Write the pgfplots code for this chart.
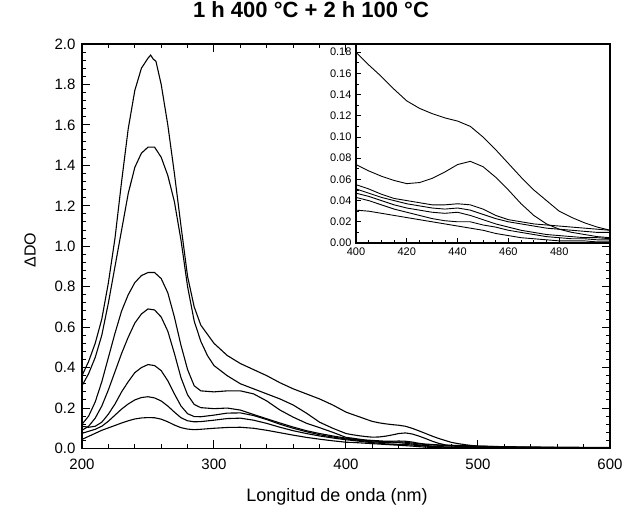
\documentclass[border=0pt]{standalone}
\usepackage{fontspec}
\setmainfont{Liberation Sans}
\usepackage{pgfplots}
\usepackage{pgfplotstable}
\pgfplotsset{compat=1.18}

\pgfplotstableread{
x y
200 0.36
205 0.43
210 0.52
215 0.64
220 0.82
225 1.04
230 1.32
235 1.58
240 1.77
245 1.88
250 1.93
252 1.945
254 1.925
256 1.915
260 1.80
265 1.60
270 1.36
275 1.10
280 0.85
285 0.70
290 0.61
300 0.52
310 0.46
320 0.42
330 0.39
340 0.36
350 0.325
360 0.295
370 0.27
380 0.245
390 0.215
400 0.180
405 0.168
410 0.157
415 0.145
420 0.134
425 0.127
430 0.122
435 0.118
440 0.115
445 0.110
450 0.100
455 0.088
460 0.075
465 0.062
470 0.050
475 0.040
480 0.030
485 0.024
490 0.019
495 0.015
500 0.012
520 0.008
550 0.005
600 0.003
}\cA

\pgfplotstableread{
x y
200 0.31
205 0.37
210 0.45
215 0.56
220 0.72
225 0.90
230 1.08
235 1.26
240 1.39
245 1.46
250 1.49
255 1.49
260 1.44
265 1.35
270 1.22
275 1.03
280 0.80
285 0.63
290 0.53
295 0.46
300 0.41
310 0.36
320 0.32
330 0.295
340 0.27
350 0.245
360 0.215
370 0.175
380 0.13
390 0.10
400 0.074
405 0.068
410 0.063
415 0.059
420 0.056
425 0.057
430 0.061
435 0.067
440 0.074
445 0.077
450 0.072
455 0.062
460 0.050
465 0.037
470 0.026
475 0.018
480 0.013
485 0.010
490 0.008
495 0.006
500 0.005
520 0.004
550 0.003
600 0.002
}\cB

\pgfplotstableread{
x y
200 0.12
205 0.16
210 0.23
215 0.33
220 0.45
225 0.57
230 0.68
235 0.76
240 0.82
245 0.855
250 0.87
255 0.87
260 0.84
265 0.77
270 0.65
275 0.51
280 0.39
285 0.31
290 0.285
300 0.28
310 0.285
320 0.285
330 0.27
340 0.235
350 0.19
360 0.155
370 0.125
380 0.103
390 0.08
400 0.055
405 0.051
410 0.046
415 0.042
420 0.040
425 0.038
430 0.036
435 0.036
440 0.037
445 0.036
450 0.032
455 0.026
460 0.022
465 0.020
470 0.018
475 0.017
480 0.016
485 0.015
490 0.014
495 0.013
500 0.012
520 0.009
550 0.007
600 0.005
}\cC

\pgfplotstableread{
x y
200 0.09
205 0.11
210 0.15
215 0.21
220 0.29
225 0.38
230 0.47
235 0.55
240 0.62
245 0.665
250 0.69
255 0.685
260 0.65
265 0.58
270 0.47
275 0.35
280 0.265
285 0.218
290 0.202
300 0.197
310 0.20
320 0.19
330 0.168
340 0.147
350 0.126
360 0.106
370 0.088
380 0.074
390 0.062
400 0.051
405 0.047
410 0.043
415 0.040
420 0.037
425 0.035
430 0.033
435 0.032
440 0.033
445 0.031
450 0.027
455 0.023
460 0.020
465 0.018
470 0.016
475 0.014
480 0.013
485 0.012
490 0.011
495 0.010
500 0.010
520 0.007
550 0.005
600 0.003
}\cD

\pgfplotstableread{
x y
200 0.11
205 0.105
210 0.11
215 0.13
220 0.17
225 0.22
230 0.28
235 0.33
240 0.375
245 0.40
250 0.415
255 0.41
260 0.385
265 0.335
270 0.27
275 0.21
280 0.172
285 0.158
290 0.157
300 0.165
310 0.175
320 0.176
330 0.163
340 0.143
350 0.12
360 0.10
370 0.083
380 0.068
390 0.057
400 0.047
405 0.044
410 0.040
415 0.036
420 0.033
425 0.031
430 0.029
435 0.028
440 0.029
445 0.026
450 0.022
455 0.018
460 0.015
465 0.012
470 0.010
475 0.008
480 0.007
485 0.006
490 0.005
495 0.005
500 0.004
520 0.003
550 0.003
600 0.002
}\cE

\pgfplotstableread{
x y
200 0.075
205 0.085
210 0.095
215 0.11
220 0.135
225 0.165
230 0.195
235 0.22
240 0.24
245 0.252
250 0.256
255 0.25
260 0.235
265 0.21
270 0.18
275 0.152
280 0.137
285 0.132
290 0.133
300 0.14
310 0.148
320 0.15
330 0.14
340 0.124
350 0.105
360 0.088
370 0.074
380 0.062
390 0.052
400 0.043
405 0.040
410 0.036
415 0.032
420 0.029
425 0.026
430 0.023
435 0.021
440 0.020
445 0.020
450 0.017
455 0.015
460 0.012
465 0.010
470 0.008
475 0.006
480 0.005
485 0.004
490 0.004
495 0.003
500 0.003
520 0.002
550 0.002
600 0.001
}\cF

\pgfplotstableread{
x y
200 0.045
205 0.06
210 0.075
215 0.09
220 0.102
225 0.114
230 0.126
235 0.137
240 0.146
245 0.151
250 0.153
255 0.152
260 0.145
265 0.132
270 0.116
275 0.103
280 0.096
285 0.093
290 0.095
300 0.10
310 0.104
320 0.105
330 0.10
340 0.09
350 0.078
360 0.066
370 0.055
380 0.046
390 0.038
400 0.031
405 0.030
410 0.028
415 0.026
420 0.024
425 0.022
430 0.020
435 0.018
440 0.016
445 0.014
450 0.012
455 0.009
460 0.007
465 0.005
470 0.004
475 0.003
480 0.002
485 0.002
490 0.002
495 0.001
500 0.001
520 0.001
550 0.001
600 0.001
}\cG

\begin{document}
\begin{tikzpicture}
\useasboundingbox (-82pt,-63.5pt) rectangle (559pt,448.5pt);
\begin{axis}[
  at={(0pt,0pt)}, anchor=south west,
  scale only axis, width=528pt, height=404.5pt,
  xmin=200, xmax=600, ymin=0, ymax=2,
  xtick={200,300,400,500,600},
  ytick={0,0.2,0.4,0.6,0.8,1.0,1.2,1.4,1.6,1.8,2.0},
  minor x tick num=4, minor y tick num=4,
  tick align=inside,
  major tick length=8pt, minor tick length=4pt,
  axis line style={line width=1.6pt},
  every tick/.style={line width=1pt, black},
  /pgf/number format/assume math mode=true,
  tick label style={font=\fontsize{15}{17}\selectfont},
  yticklabel style={xshift=-3pt, /pgf/number format/.cd, fixed, fixed zerofill, precision=1},
  xticklabel style={yshift=-7pt, /pgf/number format/.cd, fixed, precision=0},
  scaled ticks=false,
  xlabel={Longitud de onda (nm)},
  xlabel style={at={(axis description cs:0.5,0)}, anchor=center, yshift=-48.5pt, xshift=-9pt, font=\fontsize{18}{20}\selectfont},
  ylabel={ΔDO},
  ylabel style={at={(axis description cs:-0.0985,0.49)}, anchor=center, font=\fontsize{16}{18}\selectfont},
  title={1 h 400 °C + 2 h 100 °C},
  title style={at={(axis description cs:0.5,1)}, anchor=center, yshift=28pt, xshift=-35pt, font=\bfseries\fontsize{22}{24}\selectfont},
]
\addplot[black, line width=1.1pt, mark=none] table {\cA};
\addplot[black, line width=1.1pt, mark=none] table {\cB};
\addplot[black, line width=1.1pt, mark=none] table {\cC};
\addplot[black, line width=1.1pt, mark=none] table {\cD};
\addplot[black, line width=1.1pt, mark=none] table {\cE};
\addplot[black, line width=1.1pt, mark=none] table {\cF};
\addplot[black, line width=1.1pt, mark=none] table {\cG};
\end{axis}
\begin{axis}[
  at={(274pt,205.5pt)}, anchor=south west,
  scale only axis, width=254pt, height=199pt,
  xmin=400, xmax=500, ymin=0, ymax=0.1877,
  xtick={400,420,440,460,480},
  ytick={0,0.02,0.04,0.06,0.08,0.10,0.12,0.14,0.16,0.18},
  minor x tick num=3, minor y tick num=1,
  xtick pos=bottom, ytick pos=left,
  tick align=inside,
  major tick length=5pt, minor tick length=3pt,
  axis background/.style={fill=white},
  axis line style={line width=1.4pt},
  every tick/.style={line width=0.8pt, black},
  /pgf/number format/assume math mode=true,
  tick label style={font=\fontsize{11}{12}\selectfont},
  yticklabel style={xshift=-1pt, /pgf/number format/.cd, fixed, fixed zerofill, precision=2},
  xticklabel style={yshift=-1.5pt, /pgf/number format/.cd, fixed, precision=0},
  scaled ticks=false,
]
\addplot[black, line width=0.9pt, mark=none] table {\cA};
\addplot[black, line width=0.9pt, mark=none] table {\cB};
\addplot[black, line width=0.9pt, mark=none] table {\cC};
\addplot[black, line width=0.9pt, mark=none] table {\cD};
\addplot[black, line width=0.9pt, mark=none] table {\cE};
\addplot[black, line width=0.9pt, mark=none] table {\cF};
\addplot[black, line width=0.9pt, mark=none] table {\cG};
\end{axis}
\end{tikzpicture}
\end{document}
